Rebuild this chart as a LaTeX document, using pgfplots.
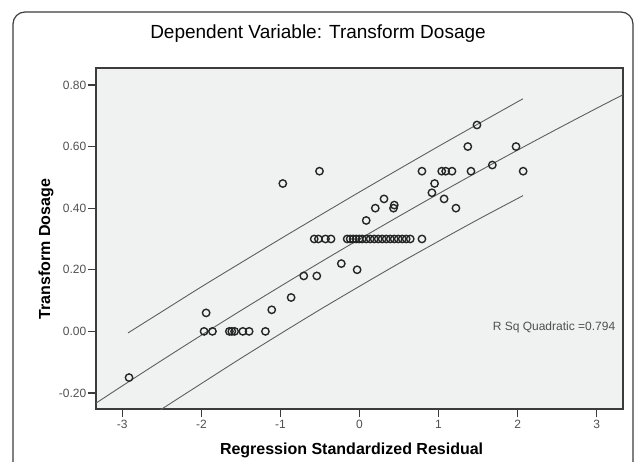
\documentclass[border=0pt]{standalone}
\usepackage{fontspec}
\setmainfont{Liberation Sans}
\usepackage{pgfplots}
\pgfplotsset{compat=1.18}
\definecolor{bgc}{RGB}{240,241,241}
\definecolor{linec}{RGB}{95,95,95}
\definecolor{framec}{RGB}{60,60,60}
\definecolor{tickc}{RGB}{80,80,80}
\begin{document}
\begin{tikzpicture}
\draw[framec, line width=1.2pt, rounded corners=12pt] (-83pt,-80pt) -- (-83pt,397pt) -- (537pt,397pt) -- (537pt,-80pt);
\begin{axis}[
  at={(0pt,0pt)}, anchor=south west,
  width=527pt, height=341pt, scale only axis,
  xmin=-3.333, xmax=3.333, ymin=-0.252, ymax=0.855,
  axis background/.style={fill=bgc},
  axis line style={draw=framec, line width=1.3pt},
  xtick={-3,-2,-1,0,1,2,3},
  ytick={-0.2,0,0.2,0.4,0.6,0.8},
  tick align=outside, major tick length=8pt,
  tick style={draw=framec, line width=1.3pt},
  xtick pos=bottom, ytick pos=left,
  /pgf/number format/assume math mode=true,
  yticklabel style={/pgf/number format/fixed, /pgf/number format/fixed zerofill, /pgf/number format/precision=2, font=\fontsize{12}{14}\selectfont, text=tickc, inner sep=1.5pt},
  xticklabel style={font=\fontsize{12}{14}\selectfont, text=tickc},
  title={Dependent Variable: Transform Dosage},
  title style={at={(axis description cs:0.4213,1.082)}, anchor=center, font=\fontsize{19}{22}\selectfont, text=black},
  xlabel={\textbf{Regression Standardized Residual}},
  xlabel style={at={(axis description cs:0.485,-0.1202)}, anchor=center, font=\fontsize{16}{18}\selectfont},
  ylabel={\textbf{Transform Dosage}},
  ylabel style={at={(axis description cs:-0.0949,0.469)}, anchor=center, rotate=0, font=\fontsize{16}{18}\selectfont},
]
% fit line
\addplot[linec, line width=0.9pt, smooth, mark=none] coordinates {
(-3.333,-0.233) (-3,-0.1769) (-2.5,-0.094) (-2,-0.0124) (-1.5,0.0677) (-1,0.1463) (-0.5,0.2236) (0,0.2994) (0.5,0.3738) (1,0.4467) (1.5,0.5183) (2,0.5884) (2.5,0.657) (3,0.7243) (3.333,0.7682)};
% upper band
\addplot[linec, line width=0.9pt, smooth, mark=none] coordinates {
(-2.928,-0.005) (-2.5,0.064) (-2,0.1446) (-1.5,0.2227) (-1,0.3003) (-0.5,0.3766) (0,0.4524) (0.5,0.5268) (1,0.6007) (1.5,0.6733) (2,0.7454) (2.068,0.7548)};
% lower band
\addplot[linec, line width=0.9pt, smooth, mark=none] coordinates {
(-2.928,-0.325) (-2.5,-0.252) (-2,-0.1694) (-1.5,-0.0873) (-1,-0.0077) (-0.5,0.0706) (0,0.1464) (0.5,0.2208) (1,0.2927) (1.5,0.3633) (2,0.4314) (2.068,0.4408)};
% data
\addplot[only marks, mark=o, mark size=3.7pt, mark options={line width=1.4pt, draw=black!85}] coordinates {
(-2.915,-0.15) (-1.94,0.06)
(-1.966,0) (-1.86,0) (-1.646,0) (-1.615,0) (-1.58,0) (-1.476,0) (-1.396,0) (-1.19,0)
(-1.11,0.07) (-0.865,0.11) (-0.705,0.18) (-0.54,0.18) (-0.23,0.22) (-0.03,0.20)
(-0.97,0.48) (-0.506,0.52)
(-0.573,0.30) (-0.52,0.30) (-0.43,0.30) (-0.36,0.30)
(-0.156,0.30) (-0.118,0.30) (-0.080,0.30) (-0.042,0.30) (-0.004,0.30) (0.034,0.30) (0.085,0.30) (0.135,0.30) (0.186,0.30) (0.237,0.30) (0.287,0.30) (0.338,0.30) (0.389,0.30) (0.439,0.30) (0.490,0.30) (0.541,0.30) (0.591,0.30) (0.642,0.30) (0.790,0.30)
(0.085,0.36) (0.2,0.40) (0.31,0.43) (0.44,0.41) (0.43,0.40)
(0.79,0.52) (1.04,0.52) (1.09,0.52) (1.17,0.52) (1.41,0.52)
(1.68,0.54) (1.37,0.60) (1.486,0.67) (1.98,0.60) (2.07,0.52)
(0.95,0.48) (0.916,0.45) (1.07,0.43) (1.22,0.40)
};
\node[anchor=east, font=\fontsize{12}{14}\selectfont, text=tickc, inner sep=0pt] at (axis cs:3.237,0.013) {R Sq Quadratic =0.794};
\end{axis}
\pgfresetboundingbox
\useasboundingbox (-96pt,-52pt) rectangle (539pt,409pt);
\end{tikzpicture}
\end{document}
